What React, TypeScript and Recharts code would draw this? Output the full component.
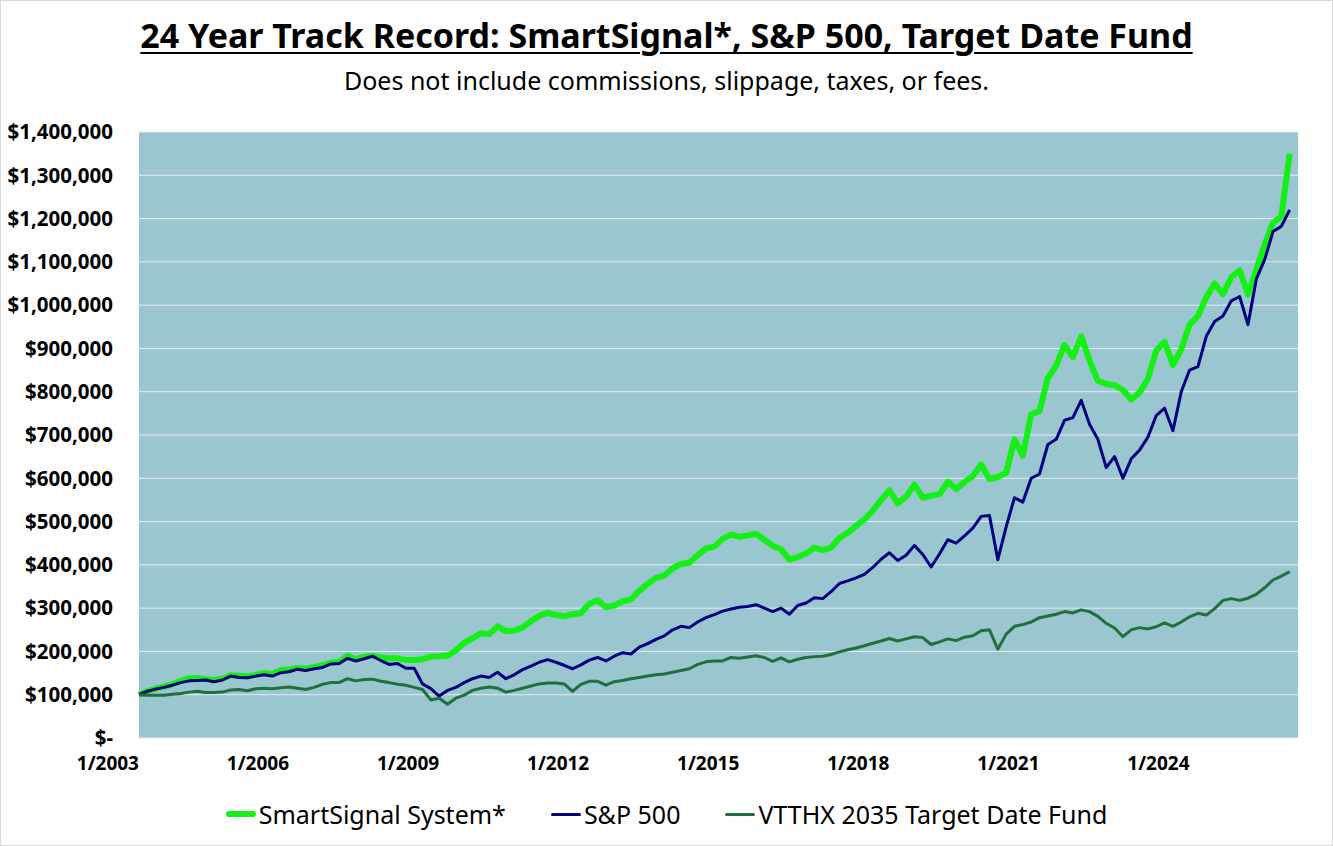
import { LineChart, Line, XAxis, YAxis, CartesianGrid } from 'recharts';

// values in $ thousands, one point every 2 months from 1/2003 to 1/2026
const smartSignal = [
  100, 108, 114, 119, 124, 132,
  138, 138, 136, 134, 137, 145,
  144, 142, 146, 150, 148, 157,
  158, 162, 160, 164, 168, 174,
  176, 190, 182, 188, 190, 186,
  184, 184, 180, 180, 182, 188,
  189, 190, 202, 220, 230, 242,
  240, 258, 247, 248, 255, 270,
  282, 289, 284, 281, 286, 288,
  310, 318, 302, 306, 316, 320,
  340, 356, 370, 375, 392, 402,
  405, 422, 438, 442, 460, 470,
  465, 468, 472, 458, 444, 436,
  412, 418, 426, 440, 434, 440,
  462, 474, 490, 505, 525, 550,
  572, 542, 558, 585, 555, 560,
  563, 592, 575, 591, 605, 632,
  598, 603, 612, 690, 652, 748,
  755, 832, 860, 908, 880, 928,
  872, 825, 818, 815, 804, 782,
  798, 830, 895, 915, 862, 898,
  955, 975, 1018, 1050, 1025, 1065,
  1080, 1025, 1082, 1140, 1190, 1205,
  1350,
];

const sp500 = [
  100, 108, 113, 117, 122, 128,
  132, 133, 134, 130, 134, 143,
  140, 139, 143, 146, 143, 151,
  153, 159, 156, 160, 163, 171,
  172, 184, 178, 183, 189, 179,
  170, 172, 161, 161, 125, 114,
  97, 110, 117, 128, 137, 143,
  140, 152, 137, 146, 158, 166,
  175, 181, 175, 168, 160, 169,
  180, 186, 178, 189, 197, 194,
  210, 218, 228, 236, 250, 258,
  255, 268, 278, 285, 293, 298,
  302, 304, 308, 300, 292, 300,
  286, 306, 312, 324, 322, 338,
  357, 363, 370, 378, 394, 413,
  428, 410, 422, 445, 424, 395,
  425, 458, 450, 467, 485, 512,
  514, 412, 488, 555, 545, 600,
  610, 678, 690, 734, 740, 780,
  725, 690, 625, 650, 600, 645,
  665, 695, 745, 762, 710, 800,
  850, 858, 928, 962, 975, 1010,
  1020, 955, 1060, 1105, 1170, 1182,
  1220,
];

const vtthx = [
  100, 99, 99, 99, 101, 103,
  106, 108, 105, 105, 106, 111,
  112, 109, 114, 115, 114, 116,
  118, 115, 112, 117, 124, 128,
  128, 137, 132, 135, 136, 131,
  128, 124, 122, 117, 112, 88,
  92, 78, 92, 99, 110, 115,
  118, 115, 106, 110, 115, 120,
  125, 127, 127, 125, 108, 124,
  131, 131, 122, 130, 133, 137,
  140, 143, 146, 148, 152, 156,
  160, 170, 176, 178, 178, 186,
  184, 187, 190, 186, 177, 185,
  176, 182, 186, 188, 189, 193,
  199, 204, 208, 213, 219, 224,
  230, 224, 229, 234, 232, 216,
  222, 229, 225, 233, 236, 248,
  250, 205, 240, 258, 262, 268,
  278, 282, 286, 292, 289, 296,
  292, 281, 265, 254, 234, 250,
  255, 252, 257, 266, 258, 268,
  280, 288, 284, 299, 318, 322,
  318, 323, 332, 347, 365, 374,
  384,
];

const yTicks = [0, 100000, 200000, 300000, 400000, 500000, 600000, 700000, 800000, 900000, 1000000, 1100000, 1200000, 1300000, 1400000];
// months since 1/2003
const xTicks = [0, 36, 72, 108, 144, 180, 216, 252];
const firstYear = 2003;

const series = [
  { key: 'smart', name: 'SmartSignal System*', color: '#14F014', width: 6 },
  { key: 'sp', name: 'S&P 500', color: '#000080', width: 3 },
  { key: 'vtthx', name: 'VTTHX 2035 Target Date Fund', color: '#236E3C', width: 3 },
];

const data = smartSignal.map((v, i) => ({
  month: i * 2,
  smart: v * 1000,
  sp: sp500[i] * 1000,
  vtthx: vtthx[i] * 1000,
}));

const FONT = '"Noto Sans", "DejaVu Sans", sans-serif';

const money = (v: number) => (v === 0 ? '$-' : '$' + v.toLocaleString('en-US'));
const dateLabel = (m: number) => `1/${firstYear + m / 12}`;

const XTick = (props: any) => {
  const { x, y, payload } = props;
  return (
    <text x={x} y={y} dy={26} textAnchor="end" fontFamily={FONT} fontWeight={700} fontSize={19} fill="#000">
      {dateLabel(payload.value)}
    </text>
  );
};

export default function App() {
  return (
    <div
      style={{
        position: 'relative',
        width: 1333,
        height: 846,
        boxSizing: 'border-box',
        border: '1px solid #d9d9d9',
        background: '#fff',
        fontFamily: FONT,
      }}
    >
      <style>{'body{margin:0}'}</style>
      <div
        style={{
          position: 'absolute',
          top: 11,
          left: 0,
          width: '100%',
          textAlign: 'center',
          fontSize: 34,
          fontWeight: 700,
          textDecoration: 'underline',
          textDecorationThickness: 2,
          textUnderlineOffset: 4,
          color: '#000',
        }}
      >
        24 Year Track Record: SmartSignal*, S&amp;P 500, Target Date Fund
      </div>
      <div
        style={{
          position: 'absolute',
          top: 62,
          left: 0,
          width: '100%',
          textAlign: 'center',
          fontSize: 25,
          color: '#000',
        }}
      >
        Does not include commissions, slippage, taxes, or fees.
      </div>
      <div style={{ position: 'absolute', left: -1, top: -1 }}>
        <LineChart width={1333} height={846} data={data} margin={{ top: 132, right: 35, bottom: 68, left: 0 }}>
          <CartesianGrid vertical={false} stroke="#e4eef0" strokeWidth={1} fill="#99C6CF" fillOpacity={1} />
          <XAxis
            dataKey="month"
            type="number"
            domain={[0, 278]}
            ticks={xTicks}
            height={40}
            axisLine={false}
            tickLine={false}
            tickMargin={0}
            tick={<XTick />}
          />
          <YAxis
            type="number"
            domain={[0, 1400000]}
            ticks={yTicks}
            width={139}
            axisLine={false}
            tickLine={false}
            tickMargin={20}
            tickFormatter={money}
            tick={{ fontFamily: FONT, fontWeight: 700, fontSize: 20.5, fill: '#000' }}
          />
          {series.map((s) => (
            <Line
              key={s.key}
              type="linear"
              dataKey={s.key}
              name={s.name}
              stroke={s.color}
              strokeWidth={s.width}
              strokeLinejoin="round"
              dot={false}
              activeDot={false}
              isAnimationActive={false}
            />
          ))}
        </LineChart>
      </div>
      <div
        style={{
          position: 'absolute',
          top: 796,
          left: 0,
          width: '100%',
          display: 'flex',
          justifyContent: 'center',
          alignItems: 'center',
          gap: 45,
          fontSize: 25,
          color: '#000',
        }}
      >
        {series.map((s) => (
          <div key={s.key} style={{ display: 'flex', alignItems: 'center' }}>
            <span
              style={{
                display: 'inline-block',
                width: 30,
                height: s.width,
                background: s.color,
                borderRadius: s.width / 2,
                marginRight: 3,
              }}
            />
            {s.name}
          </div>
        ))}
      </div>
    </div>
  );
}
